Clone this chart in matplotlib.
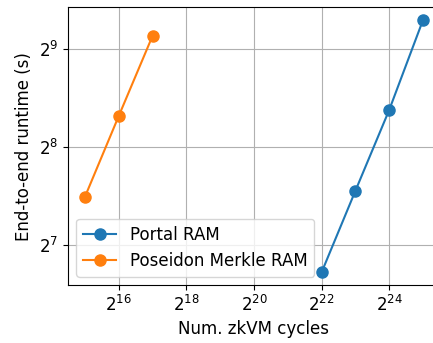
import matplotlib
matplotlib.use("Agg")
import matplotlib.pyplot as plt
from matplotlib.ticker import FixedLocator, NullLocator, LogFormatterSciNotation

# data (log2 axes)
portal_cycles = [2**22, 2**23, 2**24, 2**25]
portal_runtime = [105.7, 188.0, 332.8, 628.0]

poseidon_cycles = [2**15, 2**16, 2**17]
poseidon_runtime = [180.0, 318.6, 561.0]

xticks = [2**16, 2**18, 2**20, 2**22, 2**24]
yticks = [2**7, 2**8, 2**9]

fig = plt.figure(figsize=(4.33, 3.43), dpi=100)
ax = fig.add_axes([0.157, 0.169, 0.859, 0.810])

ax.plot(portal_cycles, portal_runtime, marker="o", markersize=8, linewidth=1.5, label="Portal RAM")
ax.plot(poseidon_cycles, poseidon_runtime, marker="o", markersize=8, linewidth=1.5, label="Poseidon Merkle RAM")

ax.set_xscale("log", base=2)
ax.set_yscale("log", base=2)
ax.xaxis.set_major_locator(FixedLocator(xticks))
ax.yaxis.set_major_locator(FixedLocator(yticks))
ax.xaxis.set_minor_locator(NullLocator())
ax.yaxis.set_minor_locator(NullLocator())
ax.xaxis.set_major_formatter(LogFormatterSciNotation(base=2))
ax.yaxis.set_major_formatter(LogFormatterSciNotation(base=2))

ax.set_xlim(2**14.5, 2**25.5)
ax.set_ylim(2**6.595, 2**9.425)

ax.tick_params(labelsize=12)
ax.set_xlabel("Num. zkVM cycles", fontsize=12)
ax.set_ylabel("End-to-end runtime (s)", fontsize=12)
ax.grid(True)
ax.legend(loc="lower left", fontsize=12)

fig.savefig("out.png", dpi=100)
